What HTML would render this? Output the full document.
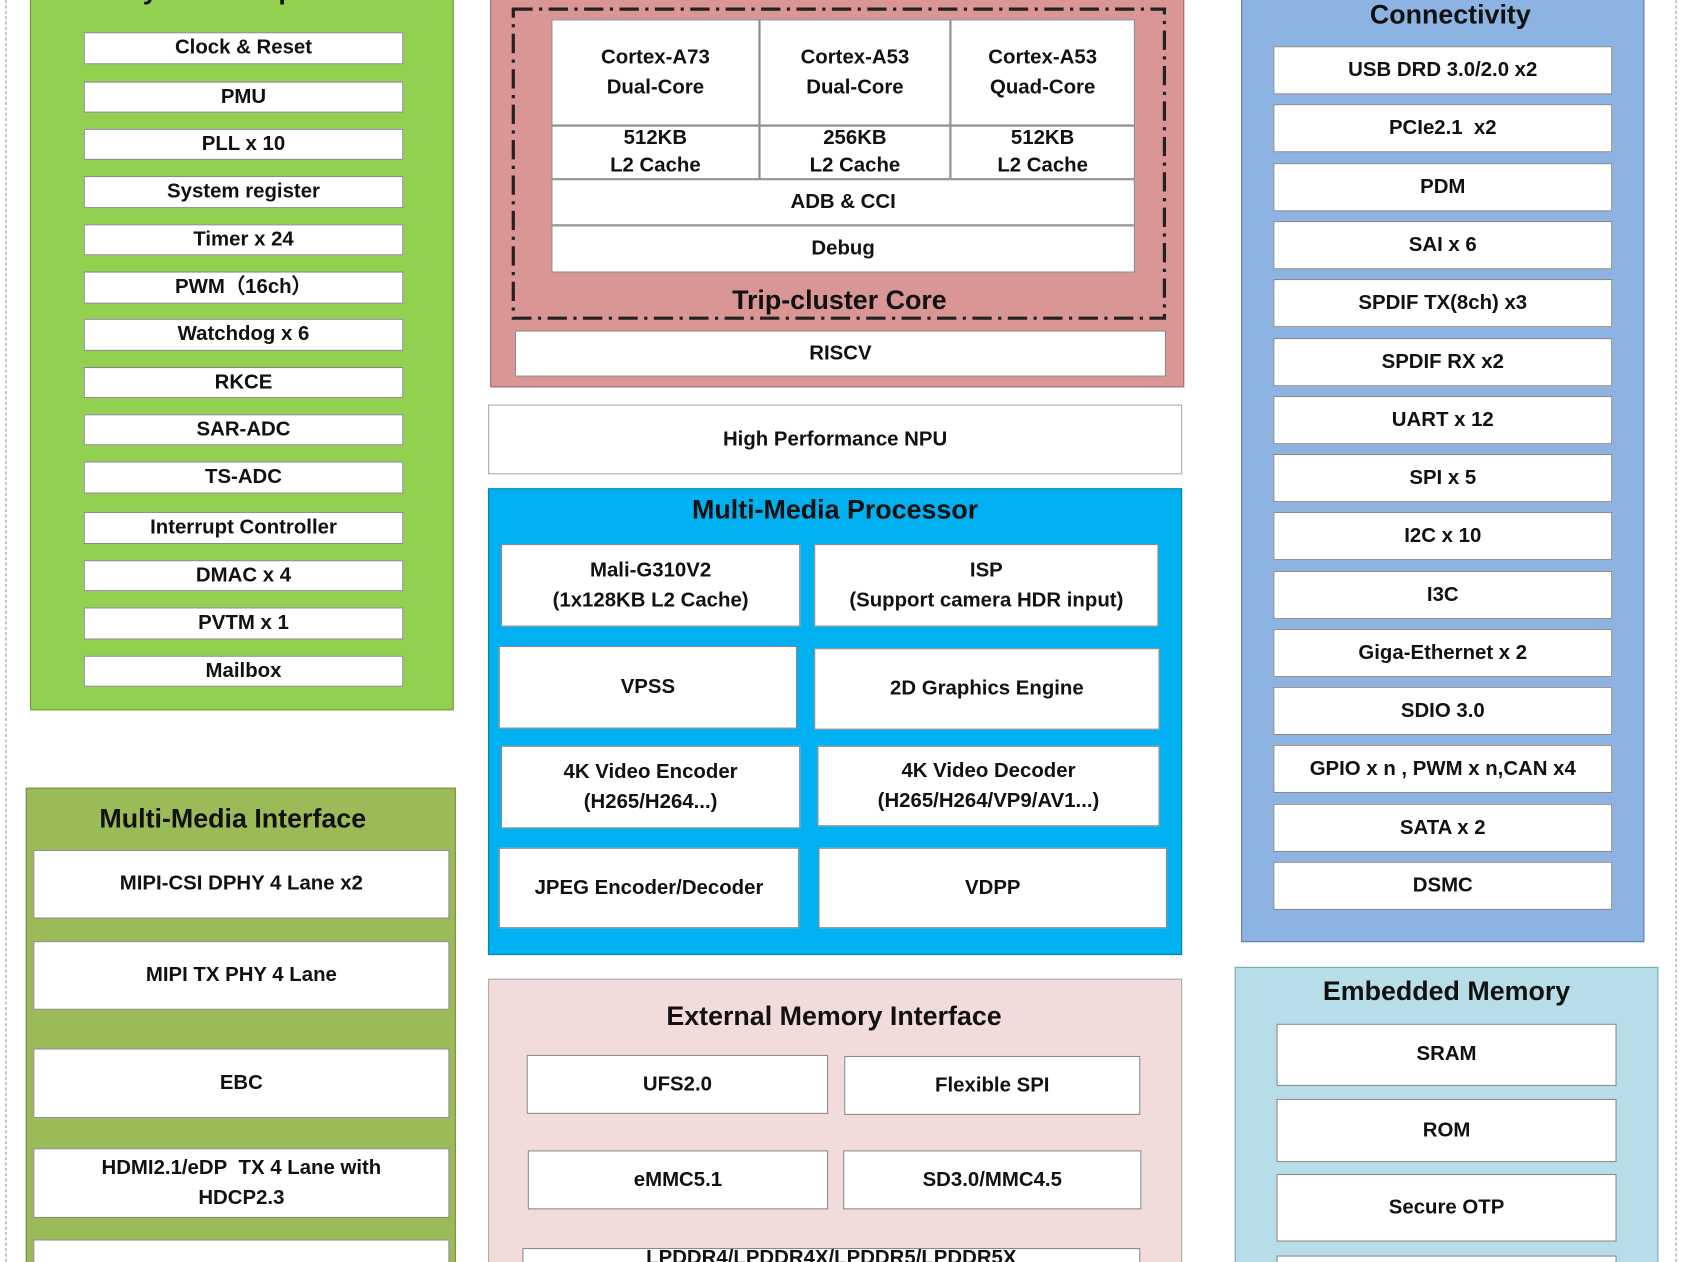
<!DOCTYPE html>
<html><head><meta charset="utf-8"><style>
html,body{margin:0;padding:0;background:#fff;width:1682px;height:1262px;overflow:hidden}
#w{position:absolute;left:0;top:0;width:1568px;height:1176px;overflow:hidden;transform:scale(1.0727,1.0731);transform-origin:0 0}
div.b{position:absolute;box-sizing:border-box;display:flex;align-items:center;justify-content:center;text-align:center;font-family:"Liberation Sans",sans-serif;font-weight:bold;color:#111;line-height:1.45}
.i{background:#fff;border:1.5px solid #888;font-size:19px}
.t{font-size:25px;color:#111}
</style></head><body><div id="w">
<div style="position:absolute;left:5px;top:0;height:1176px;border-left:1px dashed #999"></div>
<div style="position:absolute;left:1562px;top:0;height:1176px;border-left:1px dashed #999"></div>

<!-- System Peripheral -->
<div class="b" style="left:28px;top:-20px;width:395px;height:682px;background:#92d050;border:1px solid #6a9a3a"></div>
<div class="b t" style="left:28px;top:-11px;width:395px;height:20px;align-items:flex-end">System Peripheral</div>
<div class="b i" style="left:78px;top:30px;width:298px;height:30px">Clock &amp; Reset</div>
<div class="b i" style="left:78px;top:76px;width:298px;height:29px">PMU</div>
<div class="b i" style="left:78px;top:120px;width:298px;height:29px">PLL x 10</div>
<div class="b i" style="left:78px;top:164px;width:298px;height:30px">System register</div>
<div class="b i" style="left:78px;top:209px;width:298px;height:29px">Timer x 24</div>
<div class="b i" style="left:78px;top:253px;width:298px;height:30px">PWM（16ch）</div>
<div class="b i" style="left:78px;top:297px;width:298px;height:30px">Watchdog x 6</div>
<div class="b i" style="left:78px;top:342px;width:298px;height:29px">RKCE</div>
<div class="b i" style="left:78px;top:386px;width:298px;height:29px">SAR-ADC</div>
<div class="b i" style="left:78px;top:430px;width:298px;height:30px">TS-ADC</div>
<div class="b i" style="left:78px;top:477px;width:298px;height:30px">Interrupt Controller</div>
<div class="b i" style="left:78px;top:522px;width:298px;height:29px">DMAC x 4</div>
<div class="b i" style="left:78px;top:566px;width:298px;height:30px">PVTM x 1</div>
<div class="b i" style="left:78px;top:611px;width:298px;height:29px">Mailbox</div>

<!-- Multi-Media Interface -->
<div class="b" style="left:24px;top:734px;width:401px;height:460px;background:#9bbb59;border:1px solid #76923c"></div>
<div class="b t" style="left:24px;top:746px;width:386px;height:34px">Multi-Media Interface</div>
<div class="b i" style="left:31px;top:792px;width:388px;height:64px">MIPI-CSI DPHY 4 Lane x2</div>
<div class="b i" style="left:31px;top:877px;width:388px;height:64px">MIPI TX PHY 4 Lane</div>
<div class="b i" style="left:31px;top:977px;width:388px;height:65px">EBC</div>
<div class="b i" style="left:31px;top:1070px;width:388px;height:65px">HDMI2.1/eDP&nbsp; TX 4 Lane with<br>HDCP2.3</div>
<div class="b i" style="left:31px;top:1155px;width:388px;height:60px"></div>

<!-- CPU -->
<div class="b" style="left:457px;top:-10px;width:647px;height:371px;background:#da9694;border:1px solid #a66"></div>
<svg style="position:absolute;left:476px;top:6px" width="614" height="294"><rect x="2.5" y="2.5" width="607" height="288" fill="none" stroke="#222" stroke-width="3" stroke-dasharray="18,6,3,6"/></svg>
<div class="b i" style="left:514px;top:18px;width:194px;height:99px">Cortex-A73<br>Dual-Core</div>
<div class="b i" style="left:708px;top:18px;width:178px;height:99px">Cortex-A53<br>Dual-Core</div>
<div class="b i" style="left:886px;top:18px;width:172px;height:99px">Cortex-A53<br>Quad-Core</div>
<div class="b i" style="left:514px;top:117px;width:194px;height:50px;line-height:1.35">512KB<br>L2 Cache</div>
<div class="b i" style="left:708px;top:117px;width:178px;height:50px;line-height:1.35">256KB<br>L2 Cache</div>
<div class="b i" style="left:886px;top:117px;width:172px;height:50px;line-height:1.35">512KB<br>L2 Cache</div>
<div class="b i" style="left:514px;top:167px;width:544px;height:43px">ADB &amp; CCI</div>
<div class="b i" style="left:514px;top:210px;width:544px;height:44px">Debug</div>
<div class="b t" style="left:478px;top:264px;width:609px;height:32px">Trip-cluster Core</div>
<div class="b i" style="left:480px;top:308px;width:607px;height:43px">RISCV</div>

<div class="b i" style="left:455px;top:377px;width:647px;height:65px;border-color:#aaa">High Performance NPU</div>

<!-- MMP -->
<div class="b" style="left:455px;top:455px;width:647px;height:435px;background:#00b0f0;border:1px solid #0080b0"></div>
<div class="b t" style="left:455px;top:458px;width:647px;height:34px">Multi-Media Processor</div>
<div class="b i" style="left:467px;top:507px;width:279px;height:77px">Mali-G310V2<br>(1x128KB L2 Cache)</div>
<div class="b i" style="left:759px;top:507px;width:321px;height:77px">ISP<br>(Support camera HDR input)</div>
<div class="b i" style="left:465px;top:602px;width:278px;height:77px">VPSS</div>
<div class="b i" style="left:759px;top:604px;width:322px;height:76px">2D Graphics Engine</div>
<div class="b i" style="left:467px;top:695px;width:279px;height:77px">4K Video Encoder<br>(H265/H264...)</div>
<div class="b i" style="left:762px;top:695px;width:319px;height:75px">4K Video Decoder<br>(H265/H264/VP9/AV1...)</div>
<div class="b i" style="left:465px;top:790px;width:280px;height:75px">JPEG Encoder/Decoder</div>
<div class="b i" style="left:763px;top:790px;width:325px;height:75px">VDPP</div>

<!-- External Memory -->
<div class="b" style="left:455px;top:912px;width:647px;height:290px;background:#f2dcdb;border:1px solid #aaa"></div>
<div class="b t" style="left:455px;top:930px;width:645px;height:34px">External Memory Interface</div>
<div class="b i" style="left:491px;top:983px;width:281px;height:55px">UFS2.0</div>
<div class="b i" style="left:787px;top:984px;width:276px;height:55px">Flexible SPI</div>
<div class="b i" style="left:492px;top:1072px;width:280px;height:55px">eMMC5.1</div>
<div class="b i" style="left:786px;top:1072px;width:278px;height:55px">SD3.0/MMC4.5</div>
<div class="b i" style="left:487px;top:1163px;width:576px;height:40px;align-items:flex-start;padding-top:0;line-height:18px">LPDDR4/LPDDR4X/LPDDR5/LPDDR5X</div>

<!-- Connectivity -->
<div class="b" style="left:1157px;top:-10px;width:376px;height:888px;background:#8db3e2;border:1px solid #5a7fb0"></div>
<div class="b t" style="left:1157px;top:0px;width:390px;height:28px">Connectivity</div>
<div class="b i" style="left:1187px;top:43px;width:316px;height:45px">USB DRD 3.0/2.0 x2</div>
<div class="b i" style="left:1187px;top:97px;width:316px;height:45px">PCIe2.1&nbsp; x2</div>
<div class="b i" style="left:1187px;top:152px;width:316px;height:45px">PDM</div>
<div class="b i" style="left:1187px;top:206px;width:316px;height:45px">SAI x 6</div>
<div class="b i" style="left:1187px;top:260px;width:316px;height:45px">SPDIF TX(8ch) x3</div>
<div class="b i" style="left:1187px;top:315px;width:316px;height:45px">SPDIF RX x2</div>
<div class="b i" style="left:1187px;top:369px;width:316px;height:45px">UART x 12</div>
<div class="b i" style="left:1187px;top:423px;width:316px;height:45px">SPI x 5</div>
<div class="b i" style="left:1187px;top:477px;width:316px;height:45px">I2C x 10</div>
<div class="b i" style="left:1187px;top:532px;width:316px;height:45px">I3C</div>
<div class="b i" style="left:1187px;top:586px;width:316px;height:45px">Giga-Ethernet x 2</div>
<div class="b i" style="left:1187px;top:640px;width:316px;height:45px">SDIO 3.0</div>
<div class="b i" style="left:1187px;top:694px;width:316px;height:45px">GPIO x n , PWM x n,CAN x4</div>
<div class="b i" style="left:1187px;top:749px;width:316px;height:45px">SATA x 2</div>
<div class="b i" style="left:1187px;top:803px;width:316px;height:45px">DSMC</div>

<!-- Embedded Memory -->
<div class="b" style="left:1151px;top:901px;width:395px;height:300px;background:#b7dee8;border:1px solid #7aa"></div>
<div class="b t" style="left:1151px;top:907px;width:395px;height:34px">Embedded Memory</div>
<div class="b i" style="left:1190px;top:954px;width:317px;height:58px">SRAM</div>
<div class="b i" style="left:1190px;top:1024px;width:317px;height:59px">ROM</div>
<div class="b i" style="left:1190px;top:1094px;width:317px;height:63px">Secure OTP</div>
<div class="b i" style="left:1190px;top:1170px;width:317px;height:40px"></div>
</div></body></html>
